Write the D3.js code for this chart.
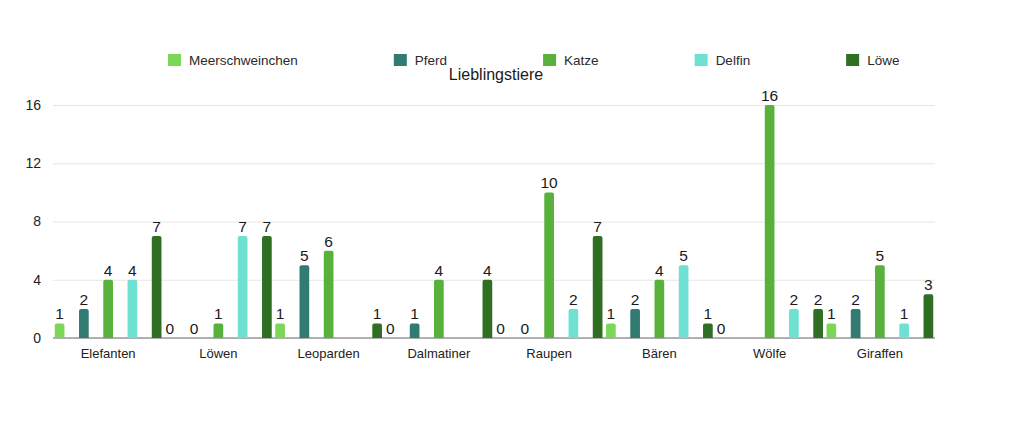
<!DOCTYPE html>
<html>
<head>
<meta charset="utf-8">
<script src="https://cdn.jsdelivr.net/npm/d3@7"></script>
<style>
  body { margin: 0; background: #fff; }
  text { font-family: "Liberation Sans", Arial, sans-serif; }
</style>
</head>
<body>
<script>
// data (null = no bar, no label)
var categories = ["Elefanten", "Löwen", "Leoparden", "Dalmatiner", "Raupen", "Bären", "Wölfe", "Giraffen"];
var seriesNames = ["Meerschweinchen", "Pferd", "Katze", "Delfin", "Löwe"];
var seriesColors = ["#7dd756", "#327b73", "#57b13a", "#6fe1d3", "#2f6f23"];
var meerschweinchen = [1, 0, 1, 0, 0, 1, 0, 1];
var pferd = [2, 0, 5, 1, 0, 2, null, 2];
var katze = [4, 1, 6, 4, 10, 4, 16, 5];
var delfin = [4, 7, null, null, 2, 5, 2, 1];
var loewe = [7, 7, 1, 4, 7, 1, 2, 3];
var yTicks = [0, 4, 8, 12, 16];

var series = [meerschweinchen, pferd, katze, delfin, loewe];

var width = 1024, height = 432;
var margin = { top: 105, right: 89, bottom: 94, left: 53 };

var svg = d3.select("body").append("svg")
  .attr("width", width)
  .attr("height", height);

var x = d3.scaleBand()
  .domain(categories)
  .range([margin.left, width - margin.right]);

// bars spread a bit wider than a band, like in the original
var xSub = d3.scaleBand()
  .domain(seriesNames)
  .range([-x.step() * 0.55, x.step() * 0.55])
  .paddingInner(0.6)
  .paddingOuter(0.3);

var y = d3.scaleLinear()
  .domain([0, 16])
  .range([height - margin.bottom, margin.top]);

// gridlines
var grid = svg.append("g")
  .attr("transform", "translate(" + margin.left + ",0)")
  .call(d3.axisLeft(y).tickValues(yTicks).tickSize(-(width - margin.left - margin.right)).tickFormat(""));
grid.select(".domain").remove();
grid.selectAll("line").attr("stroke", "#e6e6e6");

// y labels
svg.append("g").selectAll("text")
  .data(yTicks)
  .enter().append("text")
  .attr("x", 41)
  .attr("y", function (d) { return y(d); })
  .attr("dy", "0.35em")
  .attr("text-anchor", "end")
  .attr("font-size", 14)
  .attr("fill", "#222")
  .text(function (d) { return d; });

// baseline
svg.append("line")
  .attr("x1", margin.left)
  .attr("x2", width - margin.right)
  .attr("y1", y(0))
  .attr("y2", y(0))
  .attr("stroke", "#9a9a9a")
  .attr("stroke-width", 1.3);

// flatten into bar records
var bars = [];
series.forEach(function (vals, s) {
  vals.forEach(function (v, c) {
    if (v !== null) bars.push({ s: s, c: c, v: v });
  });
});

var bw = xSub.bandwidth();
function barX(d) {
  return x(categories[d.c]) + x.bandwidth() / 2 + xSub(seriesNames[d.s]);
}

// bars, rounded top corners
svg.append("g").selectAll("path")
  .data(bars.filter(function (d) { return d.v > 0; }))
  .enter().append("path")
  .attr("fill", function (d) { return seriesColors[d.s]; })
  .attr("d", function (d) {
    var x0 = barX(d), y0 = y(d.v), y1 = y(0), r = 2;
    return "M" + x0 + "," + y1 +
      "V" + (y0 + r) +
      "Q" + x0 + "," + y0 + " " + (x0 + r) + "," + y0 +
      "H" + (x0 + bw - r) +
      "Q" + (x0 + bw) + "," + y0 + " " + (x0 + bw) + "," + (y0 + r) +
      "V" + y1 + "Z";
  });

// value labels
svg.append("g").selectAll("text")
  .data(bars)
  .enter().append("text")
  .attr("x", function (d) { return barX(d) + bw / 2; })
  .attr("y", function (d) { return y(d.v) - 4; })
  .attr("text-anchor", "middle")
  .attr("font-size", 15.5)
  .attr("fill", "#1a1a1a")
  .text(function (d) { return d.v; });

// category labels
svg.append("g").selectAll("text")
  .data(categories)
  .enter().append("text")
  .attr("x", function (d) { return x(d) + x.bandwidth() / 2; })
  .attr("y", y(0) + 20)
  .attr("text-anchor", "middle")
  .attr("font-size", 13)
  .attr("fill", "#222")
  .text(function (d) { return d; });

// legend, flowed left to right
var legend = svg.append("g").selectAll("g")
  .data(seriesNames)
  .enter().append("g");
legend.append("rect")
  .attr("width", 13)
  .attr("height", 12)
  .attr("fill", function (d, i) { return seriesColors[i]; });
legend.append("text")
  .attr("x", 21)
  .attr("y", 6)
  .attr("dy", "0.35em")
  .attr("font-size", 13.5)
  .attr("fill", "#2a2a2a")
  .text(function (d) { return d; });

var lx = 168;
legend.each(function () {
  var g = d3.select(this);
  g.attr("transform", "translate(" + lx + ",54)");
  lx += 21 + g.select("text").node().getComputedTextLength() + 96;
});

// title
svg.append("text")
  .attr("x", 496)
  .attr("y", 80)
  .attr("text-anchor", "middle")
  .attr("font-size", 16)
  .attr("fill", "#1a1a1a")
  .text("Lieblingstiere");
</script>
</body>
</html>
